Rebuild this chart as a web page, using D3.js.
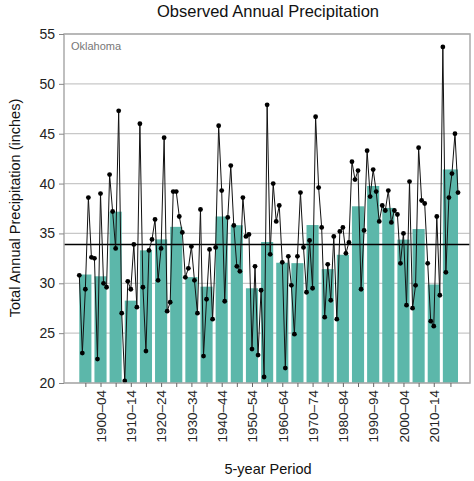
<!DOCTYPE html>
<html><head><meta charset="utf-8">
<script src="https://cdn.jsdelivr.net/npm/d3@7"></script>
<style>body{margin:0;background:#fff}text{font-family:"Liberation Sans",Arial,sans-serif}</style>
</head><body><svg id="c" width="474" height="481"></svg>
<script>
const startYear = 1895;
const annual = [30.8,23.0,29.4,38.6,32.6, 32.5,22.4,39.0,30.0,29.6, 40.9,37.2,33.5,47.3,27.0,
 20.2,30.2,29.4,33.9,27.6, 46.0,29.6,23.2,33.3,34.4, 36.4,30.3,33.5,44.6,27.2,
 28.1,39.2,39.2,36.7,35.1, 30.6,31.5,33.7,30.3,27.0, 37.4,22.7,28.4,33.4,26.4,
 33.6,45.8,39.3,28.2,36.6, 41.8,35.8,31.7,31.2,38.6, 34.7,34.9,23.4,31.7,22.8,
 29.3,20.6,47.9,32.9,40.0, 36.2,37.8,32.1,21.5,32.7, 29.8,24.9,32.7,39.1,33.6,
 29.1,34.3,29.5,46.7,39.6, 35.6,26.6,31.9,28.3,34.7, 26.4,35.2,35.6,33.0,34.1,
 42.2,40.4,41.3,29.4,35.3, 43.3,38.7,41.4,39.2,36.2, 37.8,37.3,39.3,36.1,37.3,
 36.9,32.0,35.0,27.8,40.2, 27.5,29.8,43.6,38.3,38.0, 32.0,26.2,25.7,36.7,28.8,
 53.7,31.1,38.6,41.0,45.0,39.1];
const periodStarts = [1895,1900,1905,1910,1915,1920,1925,1930,1935,1940,1945,1950,1955,1960,1965,1970,1975,1980,1985,1990,1995,2000,2005,2010,2015];
const periodEnds   = [1899,1904,1909,1914,1919,1924,1929,1934,1939,1944,1949,1954,1959,1964,1969,1974,1979,1984,1989,1994,1999,2004,2009,2014,2020];
const periodLabels = ["1895–99","1900–04","1905–09","1910–14","1915–19","1920–24","1925–29","1930–34","1935–39","1940–44","1945–49","1950–54","1955–59","1960–64","1965–69","1970–74","1975–79","1980–84","1985–89","1990–94","1995–99","2000–04","2005–09","2010–14","2015–20"];
const yTicks = [20,25,30,35,40,45,50,55];
const longTermMean = 33.9;

const years = annual.map((v,i)=>startYear+i);
const periodMeans = periodStarts.map((s,i)=>d3.mean(annual.filter((v,j)=>years[j]>=s&&years[j]<=periodEnds[i])));

const svg = d3.select("#c");
const L=64,R=470,T=34,B=383;
const x = d3.scaleLinear().domain([1895,2020]).range([79.3,458]);
const y = d3.scaleLinear().domain([20,55]).range([B,T]);

svg.append("g").selectAll("line").data(yTicks).join("line")
 .attr("x1",L).attr("x2",R).attr("y1",d=>y(d)).attr("y2",d=>y(d))
 .attr("stroke","#c8c8c8").attr("stroke-width",1.2);

svg.append("g").selectAll("rect").data(periodStarts).join("rect")
 .attr("x",d=>x(d)).attr("width",(d,i)=>x(periodEnds[i])-x(d))
 .attr("y",(d,i)=>y(periodMeans[i])).attr("height",(d,i)=>B-y(periodMeans[i]))
 .attr("fill","#5cb7aa");

svg.append("line").attr("x1",L).attr("x2",R).attr("y1",y(longTermMean)).attr("y2",y(longTermMean))
 .attr("stroke","#000").attr("stroke-width",1.5);

svg.append("path").datum(annual).attr("fill","none").attr("stroke","#111").attr("stroke-width",1)
 .attr("d",d3.line().x((d,i)=>x(years[i])).y(d=>y(d)));
svg.append("g").selectAll("circle").data(annual).join("circle")
 .attr("cx",(d,i)=>x(years[i])).attr("cy",d=>y(d)).attr("r",2.4).attr("fill","#000");

svg.append("rect").attr("x",L).attr("y",T).attr("width",R-L).attr("height",B-T)
 .attr("fill","none").attr("stroke","#aaa").attr("stroke-width",1.5);

// y axis
const ya = svg.append("g").attr("transform",`translate(${L},0)`)
 .call(d3.axisLeft(y).tickValues(yTicks).tickSize(5).tickPadding(4));
ya.select(".domain").remove();
ya.selectAll("line").attr("stroke","#888");
ya.selectAll("text").attr("font-size",14).attr("fill","#222").style("font-family","Liberation Sans, Arial");

// x axis
const centers = periodStarts.map((s,i)=>(s+periodEnds[i])/2);
const xa = svg.append("g").attr("transform",`translate(0,${B})`)
 .call(d3.axisBottom(x).tickValues(centers).tickSize(4).tickFormat((d,i)=>i%2===1?periodLabels[i]:""));
xa.select(".domain").remove();
xa.selectAll("line").attr("stroke","#666");
xa.selectAll("text").attr("font-size",13.5).attr("fill","#222").style("font-family","Liberation Sans, Arial")
 .attr("transform","rotate(-90)").attr("text-anchor","end").attr("x",-7).attr("y",0).attr("dy","0.35em");

svg.append("text").attr("x",268).attr("y",17).attr("text-anchor","middle").attr("font-size",16.5).attr("fill","#111").text("Observed Annual Precipitation");
svg.append("text").attr("transform","translate(20,208) rotate(-90)").attr("text-anchor","middle").attr("font-size",14.5).attr("fill","#111").text("Total Annual Precipitation (inches)");
svg.append("text").attr("x",268).attr("y",474).attr("text-anchor","middle").attr("font-size",14.5).attr("fill","#111").text("5-year Period");
svg.append("text").attr("x",71).attr("y",50).attr("font-size",11).attr("fill","#777").text("Oklahoma");
</script></body></html>
